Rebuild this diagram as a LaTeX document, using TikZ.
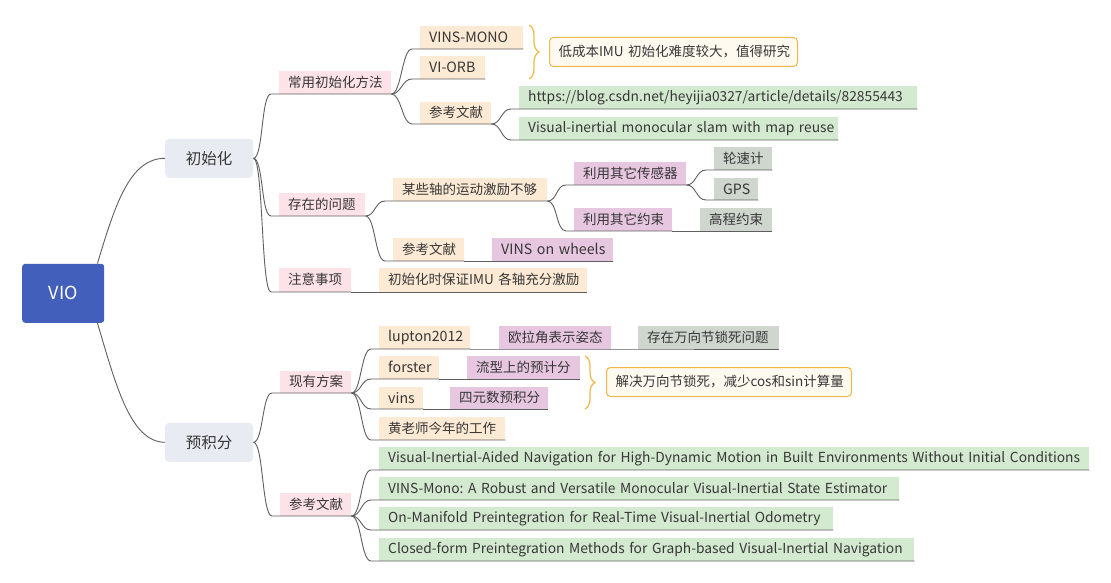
\documentclass[tikz,border=0pt]{standalone}
\usepackage{fontspec}
\setmainfont{Noto Sans CJK SC}
\usetikzlibrary{decorations.pathreplacing}
\frenchspacing
\definecolor{vioblue}{RGB}{65,95,187}
\definecolor{lonefill}{RGB}{233,235,242}
\definecolor{pinkfill}{RGB}{253,226,231}
\definecolor{peachfill}{RGB}{253,234,212}
\definecolor{greenfill}{RGB}{212,234,208}
\definecolor{purplefill}{RGB}{231,198,224}
\definecolor{grayfill}{RGB}{206,214,206}
\definecolor{orangeline}{RGB}{242,183,70}
\definecolor{notefill}{RGB}{255,250,240}
\definecolor{linkcol}{RGB}{95,95,95}
\definecolor{txtcol}{RGB}{55,55,55}
\newcommand\bx[7]{\pgfmathsetmacro\bxw{#5-#3-18}\node[inner xsep=9pt, inner ysep=0pt, text width=\bxw pt, align=left, #1, minimum height={#6-#4}, anchor=south west] (#2) at (#3,#6) {\mbox{#7}};}
\newcommand\bc[7]{\node[#1, inner sep=0pt, minimum width={#5-#3}, minimum height={#6-#4}, anchor=south west] (#2) at (#3,#6) {#7};}
\newcommand\cn[2]{\draw[link] (#1) .. controls +(10,0) and +(-10,0) .. ([xshift=-8pt]#2.south west) -- (#2.south east);}
\tikzset{
  base/.style={text=txtcol, font=\frenchspacing\fontsize{13.5}{16}\selectfont},
  lat/.style={font=\frenchspacing\fontsize{14.2}{16}\selectfont},
  vio/.style={base, fill=vioblue, text=white, rounded corners=3pt, font=\fontsize{18}{20}\selectfont},
  lone/.style={base, fill=lonefill, rounded corners=4pt, font=\fontsize{15.5}{18}\selectfont},
  pk/.style={base, fill=pinkfill},
  pc/.style={base, fill=peachfill},
  gn/.style={base, fill=greenfill, font=\frenchspacing\fontsize{13.8}{16}\selectfont},
  pu/.style={base, fill=purplefill},
  gy/.style={base, fill=grayfill},
  note/.style={base, fill=notefill, draw=orangeline, line width=1pt, rounded corners=4pt},
  link/.style={draw=linkcol, line width=0.9pt},
  brc/.style={draw=orangeline, line width=1.2pt, decorate, decoration={brace, amplitude=10pt}}
}
\begin{document}
\begin{tikzpicture}[x=1pt,y=-1pt]
\useasboundingbox[fill=white] (0,0) rectangle (1111,583);
% nodes
\bc{vio}{vio}{22}{264}{104}{323}{VIO}
\bc{lone}{ini}{165}{139}{253}{178}{初始化}
\bc{lone}{pre}{165}{423}{253}{462}{预积分}
\bx{pk}{cyff}{279}{71}{391}{94}{常用初始化方法}
\bx{pk}{czwt}{279}{193}{365}{216}{存在的问题}
\bx{pk}{zysx}{279}{268}{351}{292}{注意事项}
\bx{pk}{yyfa}{280}{371}{351}{393}{现有方案}
\bx{pk}{ckp}{280}{493}{351}{516}{参考文献}
\bx{pc,lat}{vinsmono}{420}{26}{523}{49}{VINS-MONO}
\bx{pc,lat}{viorb}{420}{56}{485}{79}{VI-ORB}
\bx{pc}{cka}{420}{102}{491}{124}{参考文献}
\bx{pc}{mxz}{393}{178}{547}{201}{某些轴的运动激励不够}
\bx{pc}{ckb}{393}{238}{464}{261}{参考文献}
\bx{pc}{csh}{379}{268}{587}{292}{初始化时保证IMU 各轴充分激励}
\bx{pc,lat}{lupton}{379}{326}{470}{349}{lupton2012}
\bx{pc,lat}{forster}{379}{356}{439}{379}{forster}
\bx{pc,lat}{vins}{379}{387}{423}{409}{vins}
\bx{pc}{huang}{379}{417}{505}{440}{黄老师今年的工作}
\bx{gn}{url}{519}{86}{917}{109}{https://blog.csdn.net/heyijia0327/article/details/82855443}
\bx{gn}{vimr}{519}{117}{838}{140}{Visual-inertial monocular slam with map reuse}
\bx{gn}{refa}{379}{447}{1089}{470}{Visual-Inertial-Aided Navigation for High-Dynamic Motion in Built Environments Without Initial Conditions}
\bx{gn}{refb}{379}{477}{899}{500}{VINS-Mono: A Robust and Versatile Monocular Visual-Inertial State Estimator}
\bx{gn}{refc}{379}{507}{833}{530}{On-Manifold Preintegration for Real-Time Visual-Inertial Odometry}
\bx{gn}{refd}{379}{538}{914}{561}{Closed-form Preintegration Methods for Graph-based Visual-Inertial Navigation}
\bx{pu}{sens}{574}{162}{686}{185}{利用其它传感器}
\bx{pu}{cons}{574}{208}{672}{231}{利用其它约束}
\bx{pu,lat}{wheels}{492}{238}{613}{261}{VINS on wheels}
\bx{pu}{euler}{499}{326}{611}{349}{欧拉角表示姿态}
\bx{pu}{manif}{467}{356}{580}{379}{流型上的预计分}
\bx{pu}{quat}{450}{387}{548}{409}{四元数预积分}
\bx{gy}{odo}{714}{147}{772}{170}{轮速计}
\bx{gy,lat}{gps}{714}{178}{758}{200}{GPS}
\bx{gy}{elev}{700}{208}{772}{231}{高程约束}
\bx{gy}{gimbal}{638}{326}{779}{349}{存在万向节锁死问题}
\bx{note}{notea}{549}{38}{797}{67}{低成本IMU 初始化难度较大，值得研究}
\bx{note}{noteb}{606}{368}{851}{397}{解决万向节锁死，减少cos和sin计算量}
% connectors
\draw[link] ([xshift=-7pt]vio.north east) .. controls +(18,-60) and +(-35,0) .. (ini.west);
\draw[link] ([xshift=-7pt]vio.south east) .. controls +(18,60) and +(-35,0) .. (pre.west);
\cn{ini.east}{cyff}
\cn{ini.east}{czwt}
\cn{ini.east}{zysx}
\cn{pre.east}{yyfa}
\cn{pre.east}{ckp}
\cn{cyff.south east}{vinsmono}
\cn{cyff.south east}{viorb}
\cn{cyff.south east}{cka}
\cn{cka.south east}{url}
\cn{cka.south east}{vimr}
\cn{czwt.south east}{mxz}
\cn{czwt.south east}{ckb}
\cn{mxz.south east}{sens}
\cn{mxz.south east}{cons}
\cn{sens.south east}{odo}
\cn{sens.south east}{gps}
\draw[link] (cons.south east) -- (elev.south east);
\draw[link] (ckb.south east) -- (wheels.south east);
\draw[link] (zysx.south east) -- (csh.south east);
\cn{yyfa.south east}{lupton}
\cn{yyfa.south east}{forster}
\cn{yyfa.south east}{vins}
\cn{yyfa.south east}{huang}
\draw[link] (lupton.south east) -- (euler.south east) -- (gimbal.south east);
\draw[link] (forster.south east) -- (manif.south east);
\draw[link] (vins.south east) -- (quat.south east);
\cn{ckp.south east}{refa}
\cn{ckp.south east}{refb}
\cn{ckp.south east}{refc}
\cn{ckp.south east}{refd}
% braces
\draw[brc] (529,25) -- (529,79);
\draw[brc] (585,356) -- (585,409);
\end{tikzpicture}
\end{document}
